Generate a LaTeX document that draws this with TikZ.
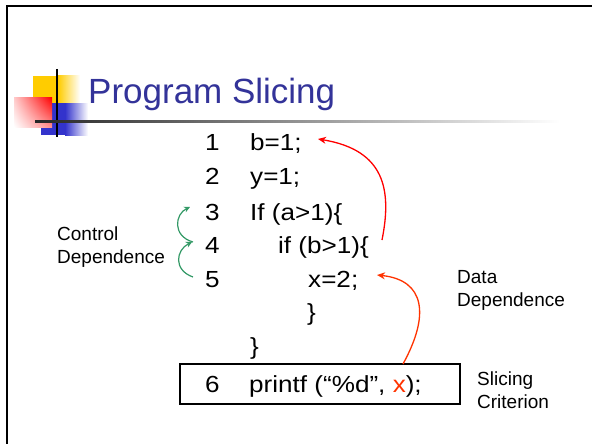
\documentclass[tikz,border=0pt]{standalone}
\usepackage{fontspec}
\setmainfont{Liberation Sans}
\newfontfamily\codefont[FakeStretch=1.12]{Liberation Sans}
\usetikzlibrary{arrows.meta,shadings}
\definecolor{titleblue}{HTML}{333399}
\definecolor{logoyellow}{HTML}{FFCC00}
\definecolor{logoblue}{HTML}{3333CC}
\definecolor{ddred}{HTML}{FF0000}
\definecolor{ddorange}{HTML}{FF3300}
\definecolor{cdgreen}{HTML}{339966}
\tikzset{
  codetxt/.style={inner sep=0pt, anchor=base west, font=\codefont\fontsize{23.3}{27}\selectfont},
  labeltxt/.style={inner sep=0pt, anchor=base west, font=\fontsize{19}{23}\selectfont},
  titletxt/.style={inner sep=0pt, anchor=base west, text=titleblue, font=\fontsize{35}{40}\selectfont},
  dataarrow/.style={line width=1.3pt, -{Stealth[length=8pt,width=7pt]}},
  ctrlarrow/.style={line width=1.2pt, cdgreen, -{Stealth[length=6pt,width=6pt]}},
  critbox/.style={draw, line width=1.4pt, minimum width=280pt, minimum height=40pt, inner sep=0pt}
}
\begin{document}
\begin{tikzpicture}[x=1pt,y=-1pt]
\useasboundingbox (0,0) rectangle (592,444);
% slide frame
\draw[line width=2pt] (7,444) -- (7,6) -- (592,6);
% logo
\fill[logoyellow] (33,76) rectangle (58,103);
\shade[left color=logoyellow, right color=white] (58,76) rectangle (80,103);
\fill[logoblue] (41,103) rectangle (65,135);
\shade[left color=logoblue, right color=white] (65,103) rectangle (88,135);
\shade[upper right=red, upper left=red!20, lower right=red!45, lower left=white] (14,98) rectangle (52,127);
\draw[line width=2pt] (57,69) -- (57,137);
\shade[left color=black!85, right color=white] (35,120) rectangle (560,122);
% title
\node[titletxt] (title) at (88,103) {Program Slicing};
% code lines
\node[codetxt] (n1) at (205,150) {1};
\node[codetxt] (c1) at (250,150) {b=1;};
\node[codetxt] (n2) at (205,184) {2};
\node[codetxt] (c2) at (250,184) {y=1;};
\node[codetxt] (n3) at (205,220) {3};
\node[codetxt] (c3) at (250,220) {If (a>1)\{};
\node[codetxt] (n4) at (205,253) {4};
\node[codetxt] (c4) at (278,253) {if (b>1)\{};
\node[codetxt] (n5) at (205,287) {5};
\node[codetxt] (c5) at (308,287) {x=2;};
\node[codetxt] (c6) at (307,320) {\}};
\node[codetxt] (c7) at (250,354) {\}};
\node[critbox] (box) at (320,384) {};
\node[codetxt] (n6) at (205,392) {6};
\node[codetxt] (c8) at (249,392) {printf (“\%d”, \textcolor{ddorange}{x});};
% labels
\node[labeltxt] (ctl1) at (57,240) {Control};
\node[labeltxt] (ctl2) at (57,263) {Dependence};
\node[labeltxt] (dat1) at (457,283) {Data};
\node[labeltxt] (dat2) at (457,306) {Dependence};
\node[labeltxt] (sl1) at (477,385) {Slicing};
\node[labeltxt] (sl2) at (477,408) {Criterion};
% arrow end points
\coordinate (d1s) at (382,240);
\coordinate (d1e) at (318,139);
\coordinate (d2s) at (403,364);
\coordinate (d2e) at (377,275);
\coordinate (g1s) at (193,277);
\coordinate (g1e) at (192,242);
\coordinate (g2s) at (193,242);
\coordinate (g2e) at (190,207);
% data dependence
\draw[dataarrow, ddred] (d1s) .. controls (392,190) and (385,150) .. (d1e);
\draw[dataarrow, ddorange] (d2s) .. controls (430,315) and (425,280) .. (d2e);
% control dependence
\draw[ctrlarrow] (g1s) .. controls (173,270) and (176,250) .. (g1e);
\draw[ctrlarrow] (g2s) .. controls (172,236) and (175,214) .. (g2e);
\end{tikzpicture}
\end{document}
